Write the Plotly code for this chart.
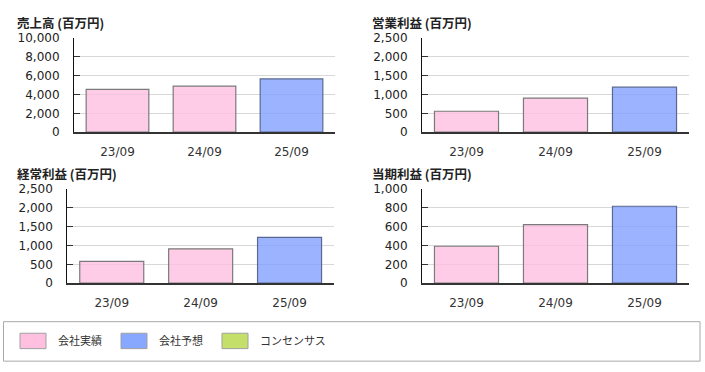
import plotly.graph_objects as go

# ---- data ----
periods = ["23/09", "24/09", "25/09"]
kinds = ["会社実績", "会社実績", "会社予想"]
titles = ["売上高 (百万円)", "営業利益 (百万円)", "経常利益 (百万円)", "当期利益 (百万円)"]
sales = [4550, 4880, 5660]
op_profit = [555, 905, 1195]
ord_profit = [580, 910, 1215]
net_profit = [392, 622, 816]
y_max = [10000, 2500, 2500, 1000]
y_dtick = [2000, 500, 500, 200]
legend_names = ["会社実績", "会社予想", "コンセンサス"]

series = [sales, op_profit, ord_profit, net_profit]

# ---- styles ----
W, H = 705, 372
fill = {"会社実績": "rgba(255,190,224,0.78)", "会社予想": "rgba(128,158,255,0.78)",
        "コンセンサス": "rgba(190,224,96,0.9)"}
edge = {"会社実績": "#7a7a7a", "会社予想": "#5a6890", "コンセンサス": "#999999"}
swatch = {"会社実績": "#ffc0e0", "会社予想": "#88a8ff", "コンセンサス": "#c4e06a"}

# pixel boxes: (x0, x1, ytop, ybottom)
boxes = [(74, 335, 32.3, 130), (422, 689, 32.3, 130),
         (67.3, 334, 189, 287), (422, 689, 189, 287)]
title_pos = [(16, 16.5), (371, 16.5), (16, 173), (371, 173)]

fig = go.Figure()
layout = dict(width=W, height=H, margin=dict(l=0, r=0, t=0, b=0),
              paper_bgcolor="white", plot_bgcolor="white", showlegend=False,
              font=dict(family="DejaVu Sans", size=12, color="#222"),
              bargap=0.28)
annotations = []
shapes = []

for i, vals in enumerate(series):
    n = "" if i == 0 else str(i + 1)
    x0, x1, yt, yb = boxes[i]
    fig.add_trace(go.Bar(
        x=periods, y=vals, xaxis="x" + n, yaxis="y" + n,
        marker=dict(color=[fill[k] for k in kinds],
                    line=dict(color=[edge[k] for k in kinds], width=1.2)),
        width=0.72, hoverinfo="x+y"))
    layout["xaxis" + n] = dict(
        domain=[x0 / W, x1 / W], anchor="y" + n, range=[-0.5, 2.5],
        showline=True, linecolor="#333", linewidth=2, showgrid=False,
        ticks="", ticklabelstandoff=7, tickfont=dict(size=12, color="#333"),
        fixedrange=True)
    layout["yaxis" + n] = dict(
        domain=[1 - yb / H, 1 - yt / H], anchor="x" + n, range=[0, y_max[i]],
        dtick=y_dtick[i], tickformat=",d", showline=True, linecolor="#111",
        linewidth=1, showgrid=True, gridcolor="#d8d8d8", gridwidth=1,
        zeroline=False, ticks="inside", ticklen=6, tickcolor="#333",
        ticklabelstandoff=11, tickfont=dict(size=12, color="#222"),
        fixedrange=True)
    tx, ty = title_pos[i]
    annotations.append(dict(
        text="<b>" + titles[i] + "</b>", x=tx / W, y=1 - ty / H,
        xref="paper", yref="paper", xanchor="left", yanchor="middle",
        showarrow=False, borderpad=0,
        font=dict(family="Noto Sans CJK JP", size=12.5, color="#222")))

# legend box
shapes.append(dict(type="rect", xref="paper", yref="paper",
                   x0=3.5 / W, x1=700 / W, y0=1 - 368 / H, y1=1 - 327 / H,
                   line=dict(color="#a8a8a8", width=1), fillcolor="white"))
sw_x = [20, 121, 222]
for j, name in enumerate(legend_names):
    sx = sw_x[j]
    shapes.append(dict(type="rect", xref="paper", yref="paper",
                       x0=sx / W, x1=(sx + 26) / W, y0=1 - 355 / H, y1=1 - 339 / H,
                       line=dict(color="#a0a0a0", width=1), fillcolor=swatch[name]))
    annotations.append(dict(
        text=name, x=(sx + 36) / W, y=1 - 346.5 / H, xref="paper", yref="paper",
        xanchor="left", yanchor="middle", showarrow=False,
        font=dict(family="Noto Sans CJK JP", size=11, color="#333")))

layout["annotations"] = annotations
layout["shapes"] = shapes
fig.update_layout(**layout)
fig.write_html("out.html", config={"displayModeBar": False},
               post_script="document.body.style.margin='0';document.body.style.overflow='hidden';")
